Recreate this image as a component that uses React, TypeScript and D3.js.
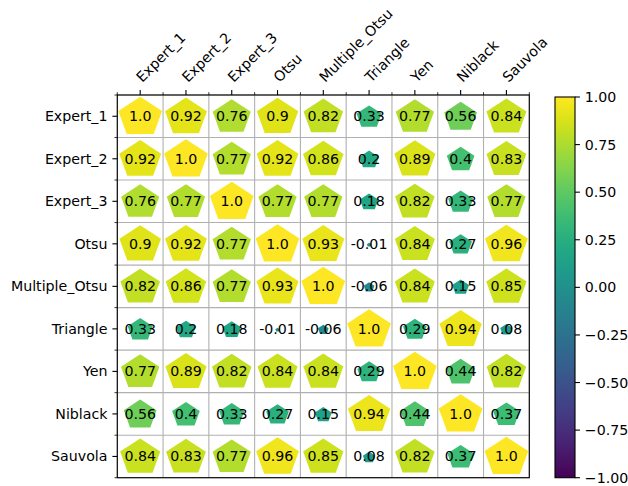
import React from "react";
import * as d3 from "d3";

const labels = ["Expert_1", "Expert_2", "Expert_3", "Otsu", "Multiple_Otsu", "Triangle", "Yen", "Niblack", "Sauvola"];

const expert1 = [1.0, 0.92, 0.76, 0.9, 0.82, 0.33, 0.77, 0.56, 0.84];
const expert2 = [0.92, 1.0, 0.77, 0.92, 0.86, 0.2, 0.89, 0.4, 0.83];
const expert3 = [0.76, 0.77, 1.0, 0.77, 0.77, 0.18, 0.82, 0.33, 0.77];
const otsu = [0.9, 0.92, 0.77, 1.0, 0.93, -0.01, 0.84, 0.27, 0.96];
const multipleOtsu = [0.82, 0.86, 0.77, 0.93, 1.0, -0.06, 0.84, 0.15, 0.85];
const triangle = [0.33, 0.2, 0.18, -0.01, -0.06, 1.0, 0.29, 0.94, 0.08];
const yen = [0.77, 0.89, 0.82, 0.84, 0.84, 0.29, 1.0, 0.44, 0.82];
const niblack = [0.56, 0.4, 0.33, 0.27, 0.15, 0.94, 0.44, 1.0, 0.37];
const sauvola = [0.84, 0.83, 0.77, 0.96, 0.85, 0.08, 0.82, 0.37, 1.0];

const rows = [expert1, expert2, expert3, otsu, multipleOtsu, triangle, yen, niblack, sauvola];

const colorTicks = [-1, -0.75, -0.5, -0.25, 0, 0.25, 0.5, 0.75, 1];

const W = 628;
const H = 486;
const FONT = "DejaVu Sans, sans-serif";
const FS = 14.2;

export default function App() {
  const left = 117.3, right = 529.3, top = 95, bottom = 477.7;
  const x = d3.scaleBand<string>().domain(labels).range([left, right]);
  const y = d3.scaleBand<string>().domain(labels).range([top, bottom]);
  const cw = x.bandwidth();
  const ch = y.bandwidth();
  const color = d3.scaleSequential(d3.interpolateViridis).domain([-1, 1]);
  const size = d3.scaleSqrt().domain([0, 1]).range([0, 1]);

  const cbLeft = 555, cbRight = 575, cbTop = 97, cbBottom = 477.7;
  const cy = d3.scaleLinear().domain([-1, 1]).range([cbBottom, cbTop]);
  const fmt = d3.format(".2f");
  const stops = d3.range(0, 33).map((i) => i / 32);

  const pent = (cx: number, cyy: number, v: number) => {
    const s = size(Math.abs(v));
    const rx = 0.502 * cw * s;
    const ry = 0.484 * ch * s;
    const pts = d3.range(5).map((k) => {
      const a = (-90 + k * 72) * Math.PI / 180;
      return [cx + rx * Math.cos(a), cyy + 1 + ry * Math.sin(a)];
    });
    return "M" + pts.map((p) => p.join(",")).join("L") + "Z";
  };

  const fmtVal = (v: number) => (Number.isInteger(v) ? v.toFixed(1) : String(v));

  const bounds = d3.range(labels.length + 1);

  return (
    <svg width={W} height={H} style={{ position: "absolute", left: 0, top: 0 }} fontFamily={FONT}>
      <defs>
        <linearGradient id="cbar" x1="0" y1="1" x2="0" y2="0">
          {stops.map((t) => (
            <stop key={t} offset={t} stopColor={color(-1 + 2 * t)} />
          ))}
        </linearGradient>
      </defs>
      <rect x={0} y={0} width={W} height={H} fill="white" />
      {/* grid */}
      {bounds.map((i) => (
        <g key={"g" + i}>
          <line x1={left + i * cw} x2={left + i * cw} y1={top} y2={bottom} stroke="#b0b0b0" strokeWidth={1.1} />
          <line x1={left} x2={right} y1={top + i * ch} y2={top + i * ch} stroke="#b0b0b0" strokeWidth={1.1} />
        </g>
      ))}
      {/* markers */}
      {rows.map((row, ri) =>
        row.map((v, ci) => {
          const px = (x(labels[ci]) as number) + cw / 2;
          const py = (y(labels[ri]) as number) + ch / 2;
          return <path key={`p${ri}-${ci}`} d={pent(px, py, v)} fill={color(v)} />;
        })
      )}
      {rows.map((row, ri) =>
        row.map((v, ci) => {
          const px = (x(labels[ci]) as number) + cw / 2;
          const py = (y(labels[ri]) as number) + ch / 2;
          return (
            <text key={`t${ri}-${ci}`} x={px} y={py} textAnchor="middle" dominantBaseline="central" fontSize={FS} fill="black">
              {fmtVal(v)}
            </text>
          );
        })
      )}
      {/* spines */}
      <rect x={left} y={top} width={right - left} height={bottom - top} fill="none" stroke="black" strokeWidth={1.1} />
      {/* minor ticks */}
      {bounds.map((i) => (
        <g key={"m" + i}>
          <line x1={left + i * cw} x2={left + i * cw} y1={top} y2={top - 2.8} stroke="black" strokeWidth={0.8} />
          <line x1={left} x2={left - 2.8} y1={top + i * ch} y2={top + i * ch} stroke="black" strokeWidth={0.8} />
        </g>
      ))}
      {/* major ticks + labels */}
      {labels.map((l) => {
        const px = (x(l) as number) + cw / 2;
        const py = (y(l) as number) + ch / 2;
        return (
          <g key={"l" + l}>
            <line x1={px} x2={px} y1={top} y2={top - 4.9} stroke="black" strokeWidth={1.1} />
            <line x1={left} x2={left - 4.9} y1={py} y2={py} stroke="black" strokeWidth={1.1} />
            <text x={left - 9.8} y={py} textAnchor="end" dominantBaseline="central" fontSize={FS}>{l}</text>
            <text transform={`translate(${px + 2},${83}) rotate(-45)`} textAnchor="start" fontSize={FS}>{l}</text>
          </g>
        );
      })}
      {/* colorbar */}
      <rect x={cbLeft} y={cbTop} width={cbRight - cbLeft} height={cbBottom - cbTop} fill="url(#cbar)" stroke="black" strokeWidth={1.1} />
      {colorTicks.map((t) => (
        <g key={"ct" + t}>
          <line x1={cbRight} x2={cbRight + 4.9} y1={cy(t)} y2={cy(t)} stroke="black" strokeWidth={1.1} />
          <text x={cbRight + 9.8} y={cy(t)} dominantBaseline="central" fontSize={FS}>{fmt(t)}</text>
        </g>
      ))}
    </svg>
  );
}
